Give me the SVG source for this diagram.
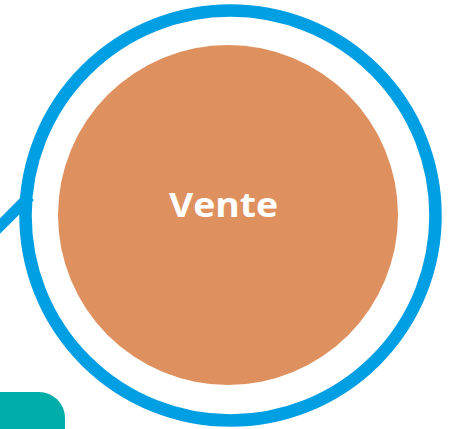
<svg xmlns="http://www.w3.org/2000/svg" width="454" height="429" viewBox="0 0 454 429">
<style>
.blue{fill:none;stroke:#009FE3;stroke-width:12.5}
.lbl{font-family:"Open Sans","Noto Sans","Liberation Sans",sans-serif;font-weight:bold;font-size:34.5px;fill:#FFFFFF;text-anchor:middle}
</style>
<rect width="454" height="429" fill="#FFFFFF"/>
<g id="connectors">
<line x1="-6" y1="232" x2="30" y2="196" stroke="#009FE3" stroke-width="11"/>
</g>
<g id="teal-node">
<rect x="-30" y="392" width="95" height="70" rx="26" fill="#00AEA9"/>
</g>
<g id="vente">
<circle class="blue" cx="230.5" cy="215.5" r="205"/>
<circle cx="228" cy="215" r="170" fill="#DE915F"/>
<text class="lbl" x="223.5" y="217" textLength="109" lengthAdjust="spacingAndGlyphs">Vente</text>
</g>
</svg>
